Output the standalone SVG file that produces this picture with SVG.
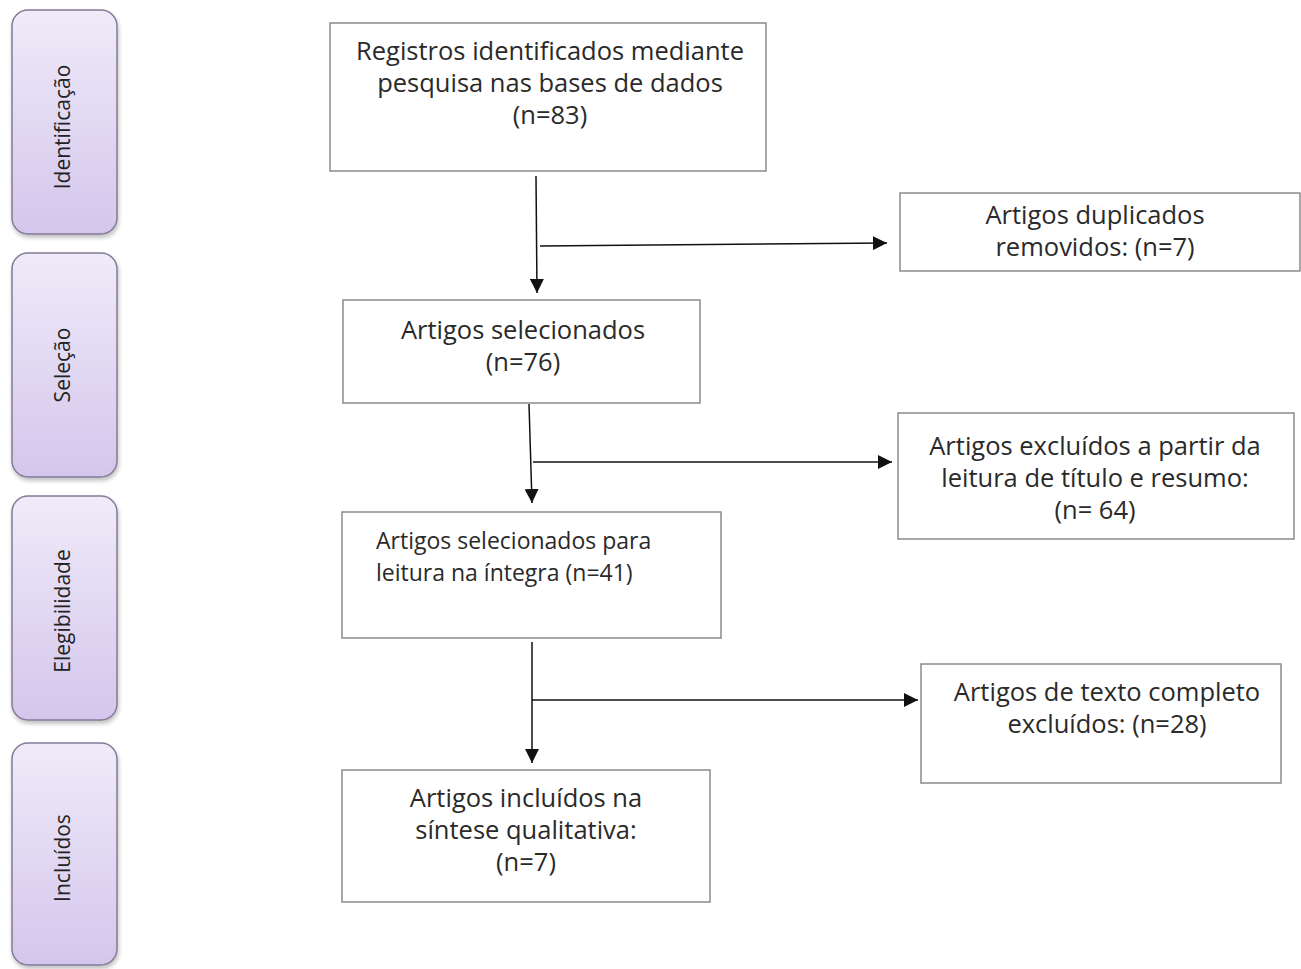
<svg xmlns="http://www.w3.org/2000/svg" width="1301" height="969" viewBox="0 0 1301 969">
<defs>
<linearGradient id="lane" x1="0" y1="0" x2="0" y2="1">
<stop offset="0" stop-color="#F0EBF9"/>
<stop offset="1" stop-color="#D3C6EC"/>
</linearGradient>
<filter id="sh" x="-10%" y="-10%" width="130%" height="130%">
<feGaussianBlur in="SourceAlpha" stdDeviation="2"/>
<feOffset dx="1" dy="3"/>
<feComponentTransfer><feFuncA type="linear" slope="0.25"/></feComponentTransfer>
<feMerge><feMergeNode/><feMergeNode in="SourceGraphic"/></feMerge>
</filter>
<marker id="arr" viewBox="0 0 10 10" refX="10" refY="5" markerWidth="14" markerHeight="14" markerUnits="userSpaceOnUse" orient="auto">
<path d="M0,0 L10,5 L0,10 z" fill="#111"/>
</marker>
</defs>
<style>
.lane{fill:url(#lane);stroke:#857A97;stroke-width:1.5;}
.lt{font-family:"Open Sans","Liberation Sans",sans-serif;font-size:21px;fill:#222;text-anchor:middle;}
.box{fill:#fff;stroke:#8A8A8A;stroke-width:1.5;}
.t{font-family:"Open Sans","Liberation Sans",sans-serif;font-size:25.5px;fill:#2a2a2a;text-anchor:middle;}
.tl{font-family:"Open Sans","Liberation Sans",sans-serif;font-size:23px;fill:#2a2a2a;}
.c{fill:none;stroke:#111;stroke-width:1.5;}
</style>
<rect width="1301" height="969" fill="#fff"/>
<g id="lane-identificacao">
<rect class="lane" x="12" y="10" width="105" height="224" rx="16" filter="url(#sh)"/>
<text class="lt" transform="translate(70,127) rotate(-90)">Identificação</text>
</g>
<g id="lane-selecao">
<rect class="lane" x="12" y="253" width="105" height="224" rx="16" filter="url(#sh)"/>
<text class="lt" transform="translate(70,365) rotate(-90)">Seleção</text>
</g>
<g id="lane-elegibilidade">
<rect class="lane" x="12" y="496" width="105" height="224" rx="16" filter="url(#sh)"/>
<text class="lt" transform="translate(70,611) rotate(-90)">Elegibilidade</text>
</g>
<g id="lane-incluidos">
<rect class="lane" x="12" y="743" width="105" height="222" rx="16" filter="url(#sh)"/>
<text class="lt" transform="translate(70,858) rotate(-90)">Incluídos</text>
</g>
<g id="connectors">
<line class="c" x1="536" y1="176" x2="537" y2="293" marker-end="url(#arr)"/>
<line class="c" x1="540" y1="246" x2="887" y2="243" marker-end="url(#arr)"/>
<line class="c" x1="529" y1="404" x2="532" y2="503" marker-end="url(#arr)"/>
<line class="c" x1="533" y1="462" x2="892" y2="462" marker-end="url(#arr)"/>
<line class="c" x1="532" y1="642" x2="532" y2="763" marker-end="url(#arr)"/>
<line class="c" x1="532" y1="700" x2="918" y2="700" marker-end="url(#arr)"/>
</g>
<g id="n-registros">
<rect class="box" x="330" y="23" width="436" height="148"/>
<text class="t" x="550" y="60">Registros identificados mediante</text>
<text class="t" x="550" y="92">pesquisa nas bases de dados</text>
<text class="t" x="550" y="124">(n=83)</text>
</g>
<g id="n-duplicados">
<rect class="box" x="900" y="193" width="400" height="78"/>
<text class="t" x="1095" y="224">Artigos duplicados</text>
<text class="t" x="1095" y="256">removidos: (n=7)</text>
</g>
<g id="n-selecionados">
<rect class="box" x="343" y="300" width="357" height="103"/>
<text class="t" x="523" y="339">Artigos selecionados</text>
<text class="t" x="523" y="371">(n=76)</text>
</g>
<g id="n-excluidos-titulo">
<rect class="box" x="898" y="413" width="396" height="126"/>
<text class="t" x="1095" y="455">Artigos excluídos a partir da</text>
<text class="t" x="1095" y="487">leitura de título e resumo:</text>
<text class="t" x="1095" y="519">(n= 64)</text>
</g>
<g id="n-integra">
<rect class="box" x="342" y="512" width="379" height="126"/>
<text class="tl" x="376" y="549">Artigos selecionados para</text>
<text class="tl" x="376" y="581">leitura na íntegra (n=41)</text>
</g>
<g id="n-texto-completo">
<rect class="box" x="921" y="664" width="360" height="119"/>
<text class="t" x="1107" y="701">Artigos de texto completo</text>
<text class="t" x="1107" y="733">excluídos: (n=28)</text>
</g>
<g id="n-incluidos">
<rect class="box" x="342" y="770" width="368" height="132"/>
<text class="t" x="526" y="807">Artigos incluídos na</text>
<text class="t" x="526" y="839">síntese qualitativa:</text>
<text class="t" x="526" y="871">(n=7)</text>
</g>
</svg>
